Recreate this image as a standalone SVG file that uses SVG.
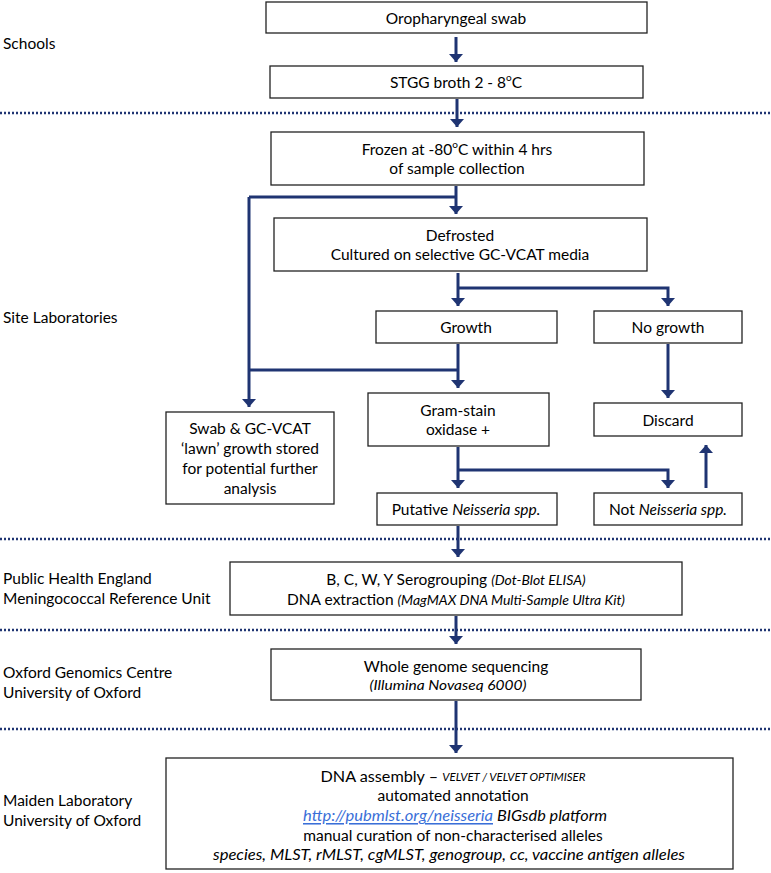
<svg xmlns="http://www.w3.org/2000/svg" width="771" height="873" viewBox="0 0 771 873">
<defs>
<marker id="ah" viewBox="0 0 8 14" refX="8" refY="7" markerWidth="8" markerHeight="14" markerUnits="userSpaceOnUse" orient="auto">
<path d="M0,0 L8,7 L0,14 z" fill="#1F3472"/>
</marker>
<style>
.box{fill:#fff;stroke:#222;stroke-width:1.3}
.t{font-family:Lato,"Open Sans","Liberation Sans",sans-serif;font-size:15.5px;fill:#000;text-anchor:middle;dominant-baseline:central}
.l{font-family:Lato,"Open Sans","Liberation Sans",sans-serif;font-size:15.5px;fill:#000;dominant-baseline:central}
.st{text-anchor:start}
.i{font-style:italic}
.s{font-size:12.5px}
.xs{font-size:11px}
.link{fill:#3A6FD8;text-decoration:underline}
.c{fill:none;stroke:#1F3472;stroke-width:3}
.ca{fill:none;stroke:#1F3472;stroke-width:3;marker-end:url(#ah)}
.dot{stroke:#1F3472;stroke-width:2.5;stroke-dasharray:2 2}
</style>
</defs>

<g id="lanes">
<line class="dot" x1="0" y1="113" x2="771" y2="113"/>
<line class="dot" x1="0" y1="539" x2="771" y2="539"/>
<line class="dot" x1="0" y1="630" x2="771" y2="630"/>
<line class="dot" x1="0" y1="729" x2="771" y2="729"/>
<text class="l" x="3" y="43">Schools</text>
<text class="l" x="3" y="317">Site Laboratories</text>
<text class="l" x="3" y="578">Public Health England</text>
<text class="l" x="3" y="598">Meningococcal Reference Unit</text>
<text class="l" x="3" y="672">Oxford Genomics Centre</text>
<text class="l" x="3" y="692">University of Oxford</text>
<text class="l" x="3" y="800">Maiden Laboratory</text>
<text class="l" x="3" y="820">University of Oxford</text>
</g>

<g id="connectors">
<path class="ca" d="M456,37 V62"/>
<path class="ca" d="M457,99 V127"/>
<path class="ca" d="M456,186 V214"/>
<path class="c" d="M456,197 H249"/>
<path class="ca" d="M249,197 V407"/>
<path class="ca" d="M458,273 V306"/>
<path class="ca" d="M458,288 H668 V306"/>
<path class="ca" d="M458,344 V388"/>
<path class="c" d="M458,370 H249"/>
<path class="ca" d="M668,344 V398"/>
<path class="ca" d="M458,447 V488"/>
<path class="ca" d="M458,470 H668 V488"/>
<path class="ca" d="M706,488 V445"/>
<path class="ca" d="M458,526 V557"/>
<path class="ca" d="M456,616 V644"/>
<path class="ca" d="M456,701 V753"/>
</g>

<g id="n-swab">
<rect class="box" x="266" y="2" width="381" height="31"/>
<text class="t" x="456" y="18">Oropharyngeal swab</text>
</g>
<g id="n-stgg">
<rect class="box" x="270" y="66" width="373" height="32"/>
<text class="t" x="456" y="82">STGG broth 2 - 8<tspan font-size="10" dy="-5">o</tspan><tspan dy="5">C</tspan></text>
</g>
<g id="n-frozen">
<rect class="box" x="271" y="132" width="373" height="53"/>
<text class="t" x="457" y="149">Frozen at -80<tspan font-size="10" dy="-5">o</tspan><tspan dy="5">C within 4 hrs</tspan></text>
<text class="t" x="457" y="168">of sample collection</text>
</g>
<g id="n-defrost">
<rect class="box" x="274" y="218" width="373" height="53"/>
<text class="t" x="460" y="235">Defrosted</text>
<text class="t" x="460" y="254">Cultured on selective GC-VCAT media</text>
</g>
<g id="n-growth">
<rect class="box" x="376" y="311" width="181" height="32"/>
<text class="t" x="466" y="327">Growth</text>
</g>
<g id="n-nogrowth">
<rect class="box" x="594" y="311" width="148" height="32"/>
<text class="t" x="668" y="327">No growth</text>
</g>
<g id="n-store">
<rect class="box" x="166" y="412" width="168" height="92"/>
<text class="t" x="250" y="428">Swab &amp; GC-VCAT</text>
<text class="t" x="250" y="448">‘lawn’ growth stored</text>
<text class="t" x="250" y="468">for potential further</text>
<text class="t" x="250" y="488">analysis</text>
</g>
<g id="n-gram">
<rect class="box" x="368" y="393" width="181" height="53"/>
<text class="t" x="458" y="410">Gram-stain</text>
<text class="t" x="458" y="429">oxidase +</text>
</g>
<g id="n-discard">
<rect class="box" x="594" y="403" width="148" height="33"/>
<text class="t" x="668" y="420">Discard</text>
</g>
<g id="n-putative">
<rect class="box" x="377" y="493" width="180" height="32"/>
<text class="t" x="466" y="509">Putative <tspan class="i">Neisseria spp.</tspan></text>
</g>
<g id="n-not">
<rect class="box" x="594" y="493" width="148" height="32"/>
<text class="t" x="668" y="509">Not <tspan class="i">Neisseria spp.</tspan></text>
</g>
<g id="n-phe">
<rect class="box" x="230" y="562" width="452" height="53"/>
<text class="t" x="456" y="579">B, C, W, Y Serogrouping <tspan class="i" font-size="14">(Dot-Blot ELISA)</tspan></text>
<text class="t" x="456" y="599">DNA extraction <tspan class="i" font-size="14">(MagMAX DNA Multi-Sample Ultra Kit)</tspan></text>
</g>
<g id="n-wgs">
<rect class="box" x="271" y="649" width="370" height="51"/>
<text class="t" x="456" y="666">Whole genome sequencing</text>
<text class="t i s" x="448" y="685" textLength="157" lengthAdjust="spacingAndGlyphs">(Illumina Novaseq 6000)</text>
</g>
<g id="n-maiden">
<rect class="box" x="166" y="758" width="567" height="111"/>
<text class="t" x="453" y="776" textLength="265" lengthAdjust="spacingAndGlyphs">DNA assembly – <tspan class="i xs">VELVET / VELVET OPTIMISER</tspan></text>
<text class="t" x="453" y="795">automated annotation</text>
<text class="t st i link" x="303" y="815" textLength="190" lengthAdjust="spacingAndGlyphs">http://pubmlst.org/neisseria</text>
<text class="t st i" x="497" y="815" textLength="110" lengthAdjust="spacingAndGlyphs">BIGsdb platform</text>
<text class="t" x="453" y="835">manual curation of non-characterised alleles</text>
<text class="t i" x="449" y="854" textLength="472" lengthAdjust="spacingAndGlyphs">species, MLST, rMLST, cgMLST, genogroup, cc, vaccine antigen alleles</text>
</g>
</svg>
